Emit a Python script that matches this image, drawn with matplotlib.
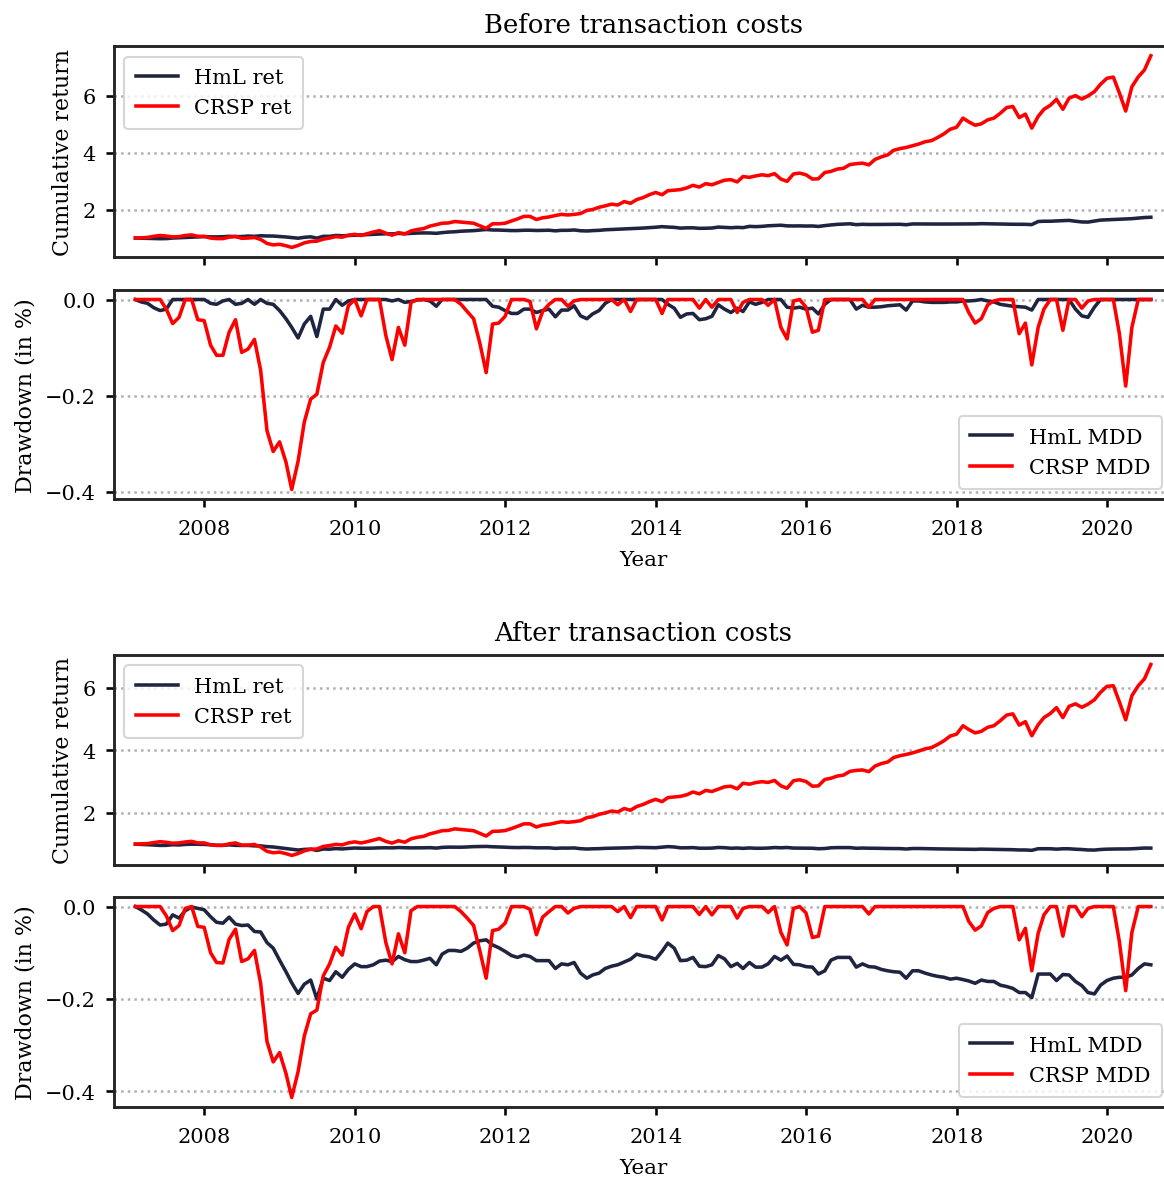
import matplotlib
matplotlib.use('Agg')
import matplotlib.pyplot as plt
import matplotlib.dates as mdates
from matplotlib.ticker import MultipleLocator
import pandas as pd

plt.rcParams['font.family'] = 'serif'
plt.rcParams['font.serif'] = ['DejaVu Serif']

# monthly dates, Jan 2007 .. Jul 2020 (month end)
dates = pd.period_range('2007-01', periods=163, freq='M').to_timestamp(how='end').normalize()

# ---------------- before transaction costs ----------------
hml_cum_before = [
    1.000, 0.995, 0.992, 0.983, 0.977, 0.980, 1.000, 1.010, 1.020, 1.030, 1.040, 1.050,
    1.042, 1.040, 1.047, 1.060, 1.050, 1.052, 1.070, 1.060, 1.080, 1.072, 1.070, 1.055,
    1.037, 1.018, 0.994, 1.025, 1.043, 0.997, 1.060, 1.060, 1.090, 1.080, 1.087, 1.100,
    1.110, 1.120, 1.130, 1.140, 1.150, 1.146, 1.160, 1.153, 1.165, 1.175, 1.180, 1.177,
    1.165, 1.190, 1.210, 1.220, 1.240, 1.250, 1.260, 1.280, 1.300, 1.282, 1.280, 1.270,
    1.262, 1.262, 1.274, 1.274, 1.265, 1.270, 1.274, 1.253, 1.271, 1.271, 1.283, 1.256,
    1.248, 1.261, 1.270, 1.290, 1.300, 1.310, 1.320, 1.330, 1.340, 1.350, 1.365, 1.380,
    1.400, 1.386, 1.375, 1.348, 1.358, 1.359, 1.341, 1.344, 1.351, 1.385, 1.372, 1.362,
    1.375, 1.365, 1.410, 1.400, 1.410, 1.430, 1.440, 1.450, 1.427, 1.424, 1.427, 1.421,
    1.424, 1.407, 1.436, 1.460, 1.480, 1.490, 1.500, 1.470, 1.482, 1.476, 1.476, 1.478,
    1.480, 1.482, 1.483, 1.467, 1.495, 1.495, 1.493, 1.491, 1.491, 1.491, 1.493, 1.493,
    1.496, 1.496, 1.497, 1.505, 1.500, 1.497, 1.490, 1.487, 1.484, 1.482, 1.481, 1.472,
    1.580, 1.590, 1.590, 1.600, 1.610, 1.620, 1.590, 1.565, 1.560, 1.594, 1.630, 1.640,
    1.650, 1.660, 1.670, 1.680, 1.700, 1.720, 1.730,
]
crsp_cum_before = [
    1.00, 1.01, 1.02, 1.06, 1.09, 1.07, 1.04, 1.05, 1.09, 1.11, 1.06, 1.06,
    1.00, 0.98, 0.98, 1.03, 1.06, 0.99, 1.00, 1.02, 0.95, 0.81, 0.76, 0.78,
    0.73, 0.67, 0.74, 0.83, 0.88, 0.89, 0.96, 1.00, 1.05, 1.03, 1.10, 1.13,
    1.09, 1.15, 1.21, 1.26, 1.17, 1.10, 1.19, 1.14, 1.25, 1.30, 1.33, 1.42,
    1.47, 1.52, 1.53, 1.58, 1.56, 1.54, 1.52, 1.43, 1.34, 1.50, 1.50, 1.52,
    1.60, 1.67, 1.76, 1.76, 1.65, 1.71, 1.74, 1.79, 1.83, 1.81, 1.83, 1.86,
    1.97, 2.00, 2.08, 2.13, 2.19, 2.16, 2.28, 2.22, 2.35, 2.42, 2.52, 2.60,
    2.52, 2.66, 2.68, 2.70, 2.76, 2.85, 2.79, 2.91, 2.87, 2.95, 3.03, 3.05,
    2.97, 3.16, 3.13, 3.18, 3.22, 3.19, 3.26, 3.07, 2.99, 3.25, 3.28, 3.22,
    3.07, 3.08, 3.30, 3.34, 3.42, 3.45, 3.58, 3.61, 3.63, 3.57, 3.76, 3.85,
    3.92, 4.08, 4.14, 4.18, 4.24, 4.30, 4.38, 4.42, 4.53, 4.66, 4.82, 4.89,
    5.21, 5.08, 4.96, 5.01, 5.15, 5.21, 5.38, 5.58, 5.62, 5.23, 5.35, 4.86,
    5.27, 5.52, 5.66, 5.87, 5.52, 5.91, 6.00, 5.88, 5.99, 6.14, 6.40, 6.61,
    6.65, 6.10, 5.46, 6.31, 6.66, 6.90, 7.40,
]
hml_dd_before = [
    0.000, -0.005, -0.008, -0.017, -0.023, -0.020, 0.000, 0.000, 0.000, 0.000, 0.000, 0.000,
    -0.008, -0.010, -0.003, 0.000, -0.010, -0.008, 0.000, -0.010, 0.000, -0.008, -0.010, -0.023,
    -0.040, -0.058, -0.080, -0.051, -0.035, -0.077, -0.020, -0.020, 0.000, -0.012, -0.003, 0.000,
    0.000, 0.000, 0.000, 0.000, 0.000, -0.003, 0.000, -0.006, -0.004, -0.001, 0.000, -0.003,
    -0.014, 0.000, 0.000, 0.000, 0.000, 0.000, 0.000, 0.000, 0.000, -0.014, -0.016, -0.023,
    -0.029, -0.029, -0.020, -0.020, -0.027, -0.023, -0.020, -0.036, -0.022, -0.022, -0.013, -0.034,
    -0.040, -0.030, -0.023, -0.008, 0.000, 0.000, 0.000, 0.000, 0.000, 0.000, 0.000, 0.000,
    0.000, -0.010, -0.018, -0.037, -0.030, -0.029, -0.042, -0.040, -0.035, -0.011, -0.020, -0.027,
    -0.018, -0.025, -0.005, -0.010, -0.006, 0.000, 0.000, 0.000, -0.016, -0.018, -0.016, -0.020,
    -0.018, -0.030, -0.010, 0.000, 0.000, 0.000, 0.000, -0.020, -0.012, -0.016, -0.016, -0.015,
    -0.013, -0.012, -0.011, -0.022, -0.003, -0.003, -0.005, -0.006, -0.006, -0.006, -0.005, -0.005,
    -0.003, -0.003, -0.002, 0.000, -0.003, -0.005, -0.010, -0.012, -0.014, -0.015, -0.016, -0.022,
    0.000, 0.000, 0.000, 0.000, 0.000, 0.000, -0.020, -0.034, -0.037, -0.016, 0.000, 0.000,
    0.000, 0.000, 0.000, 0.000, 0.000, 0.000, 0.000,
]
crsp_dd_before = [
    0.000, 0.000, 0.000, 0.000, 0.000, -0.020, -0.050, -0.037, 0.000, 0.000, -0.042, -0.044,
    -0.095, -0.116, -0.116, -0.068, -0.042, -0.110, -0.103, -0.083, -0.147, -0.273, -0.316, -0.296,
    -0.338, -0.395, -0.336, -0.255, -0.207, -0.197, -0.131, -0.099, -0.055, -0.070, -0.013, 0.000,
    -0.034, 0.000, 0.000, 0.000, -0.075, -0.125, -0.058, -0.095, -0.006, 0.000, 0.000, 0.000,
    0.000, 0.000, 0.000, 0.000, -0.010, -0.025, -0.040, -0.092, -0.152, -0.051, -0.049, -0.035,
    0.000, 0.000, 0.000, -0.004, -0.061, -0.025, -0.010, 0.000, 0.000, -0.014, -0.003, 0.000,
    0.000, 0.000, 0.000, 0.000, 0.000, -0.011, 0.000, -0.025, 0.000, 0.000, 0.000, 0.000,
    -0.029, 0.000, 0.000, 0.000, 0.000, 0.000, -0.018, 0.000, -0.016, 0.000, 0.000, 0.000,
    -0.027, -0.006, 0.000, 0.000, 0.000, -0.012, 0.000, -0.058, -0.082, -0.003, 0.000, -0.016,
    -0.068, -0.064, 0.000, 0.000, 0.000, 0.000, 0.000, 0.000, 0.000, -0.016, 0.000, 0.000,
    0.000, 0.000, 0.000, 0.000, 0.000, 0.000, 0.000, 0.000, 0.000, 0.000, 0.000, 0.000,
    0.000, -0.027, -0.049, -0.040, -0.011, -0.003, 0.000, 0.000, 0.000, -0.071, -0.049, -0.136,
    -0.058, -0.020, 0.000, 0.000, -0.064, 0.000, 0.000, -0.018, -0.003, 0.000, 0.000, 0.000,
    0.000, -0.070, -0.180, -0.058, 0.000, 0.000, 0.000,
]

# ---------------- after transaction costs ----------------
hml_cum_after = [
    1.000, 0.993, 0.984, 0.971, 0.960, 0.962, 0.982, 0.975, 0.991, 0.999, 0.996, 0.993,
    0.978, 0.966, 0.964, 0.977, 0.962, 0.959, 0.960, 0.946, 0.945, 0.922, 0.910, 0.884,
    0.859, 0.835, 0.812, 0.832, 0.841, 0.800, 0.845, 0.840, 0.859, 0.847, 0.864, 0.876,
    0.870, 0.870, 0.874, 0.882, 0.884, 0.881, 0.892, 0.885, 0.881, 0.881, 0.884, 0.888,
    0.874, 0.897, 0.905, 0.905, 0.903, 0.910, 0.921, 0.926, 0.928, 0.917, 0.911, 0.903,
    0.894, 0.890, 0.895, 0.892, 0.883, 0.883, 0.883, 0.866, 0.876, 0.874, 0.879, 0.856,
    0.845, 0.852, 0.856, 0.866, 0.871, 0.874, 0.880, 0.886, 0.897, 0.893, 0.891, 0.886,
    0.903, 0.921, 0.910, 0.883, 0.884, 0.890, 0.871, 0.870, 0.874, 0.894, 0.887, 0.870,
    0.877, 0.866, 0.879, 0.869, 0.869, 0.876, 0.892, 0.884, 0.893, 0.875, 0.874, 0.870,
    0.869, 0.854, 0.861, 0.884, 0.890, 0.890, 0.890, 0.869, 0.876, 0.870, 0.869, 0.864,
    0.861, 0.859, 0.858, 0.845, 0.861, 0.861, 0.856, 0.852, 0.849, 0.847, 0.843, 0.845,
    0.842, 0.839, 0.834, 0.841, 0.838, 0.838, 0.830, 0.827, 0.823, 0.814, 0.814, 0.803,
    0.854, 0.854, 0.854, 0.840, 0.853, 0.852, 0.838, 0.829, 0.814, 0.811, 0.830, 0.840,
    0.845, 0.847, 0.847, 0.852, 0.866, 0.876, 0.874,
]
crsp_cum_after = [
    1.00, 1.01, 1.02, 1.05, 1.08, 1.06, 1.03, 1.04, 1.07, 1.09, 1.04, 1.04,
    0.98, 0.96, 0.96, 1.01, 1.04, 0.97, 0.97, 0.99, 0.91, 0.77, 0.725, 0.745,
    0.697, 0.64, 0.70, 0.785, 0.837, 0.846, 0.927, 0.955, 0.994, 0.976, 1.04, 1.073,
    1.038, 1.078, 1.13, 1.18, 1.088, 1.034, 1.11, 1.062, 1.17, 1.22, 1.25, 1.33,
    1.38, 1.43, 1.44, 1.49, 1.47, 1.45, 1.43, 1.345, 1.26, 1.41, 1.415, 1.435,
    1.50, 1.57, 1.65, 1.65, 1.55, 1.61, 1.635, 1.68, 1.72, 1.70, 1.72, 1.75,
    1.85, 1.88, 1.955, 2.00, 2.06, 2.03, 2.14, 2.085, 2.205, 2.27, 2.36, 2.435,
    2.36, 2.49, 2.51, 2.53, 2.58, 2.67, 2.61, 2.72, 2.685, 2.76, 2.835, 2.855,
    2.77, 2.95, 2.92, 2.97, 3.00, 2.975, 3.04, 2.865, 2.79, 3.03, 3.06, 3.005,
    2.855, 2.865, 3.07, 3.11, 3.18, 3.21, 3.33, 3.36, 3.375, 3.32, 3.50, 3.58,
    3.63, 3.77, 3.83, 3.87, 3.92, 3.98, 4.05, 4.09, 4.19, 4.31, 4.46, 4.52,
    4.79, 4.67, 4.56, 4.61, 4.74, 4.79, 4.95, 5.13, 5.17, 4.81, 4.92, 4.47,
    4.82, 5.05, 5.18, 5.37, 5.05, 5.41, 5.49, 5.38, 5.48, 5.62, 5.86, 6.05,
    6.07, 5.56, 4.98, 5.75, 6.07, 6.29, 6.75,
]
hml_dd_after = [
    0.000, -0.007, -0.016, -0.029, -0.040, -0.038, -0.018, -0.025, -0.009, -0.001, -0.004, -0.007,
    -0.022, -0.034, -0.036, -0.023, -0.038, -0.041, -0.040, -0.054, -0.055, -0.078, -0.090, -0.116,
    -0.141, -0.165, -0.188, -0.168, -0.159, -0.200, -0.155, -0.160, -0.141, -0.153, -0.136, -0.124,
    -0.130, -0.130, -0.126, -0.118, -0.116, -0.119, -0.108, -0.115, -0.119, -0.119, -0.116, -0.112,
    -0.126, -0.103, -0.095, -0.095, -0.097, -0.090, -0.079, -0.074, -0.072, -0.083, -0.089, -0.097,
    -0.106, -0.110, -0.105, -0.108, -0.117, -0.117, -0.117, -0.134, -0.124, -0.126, -0.121, -0.144,
    -0.155, -0.148, -0.144, -0.134, -0.129, -0.126, -0.120, -0.114, -0.103, -0.107, -0.109, -0.114,
    -0.097, -0.079, -0.090, -0.117, -0.116, -0.110, -0.129, -0.130, -0.126, -0.106, -0.113, -0.130,
    -0.123, -0.134, -0.121, -0.131, -0.131, -0.124, -0.108, -0.116, -0.107, -0.125, -0.126, -0.130,
    -0.131, -0.146, -0.139, -0.116, -0.110, -0.110, -0.110, -0.131, -0.124, -0.130, -0.131, -0.136,
    -0.139, -0.141, -0.142, -0.155, -0.139, -0.139, -0.144, -0.148, -0.151, -0.153, -0.157, -0.155,
    -0.158, -0.161, -0.166, -0.159, -0.162, -0.162, -0.170, -0.173, -0.177, -0.186, -0.186, -0.197,
    -0.146, -0.146, -0.146, -0.160, -0.147, -0.148, -0.162, -0.171, -0.186, -0.189, -0.170, -0.160,
    -0.155, -0.153, -0.153, -0.148, -0.134, -0.124, -0.126,
]
crsp_dd_after = [
    0.000, 0.000, 0.000, 0.000, 0.000, -0.020, -0.052, -0.041, -0.004, 0.000, -0.043, -0.045,
    -0.100, -0.121, -0.122, -0.071, -0.049, -0.119, -0.113, -0.095, -0.166, -0.292, -0.336, -0.316,
    -0.361, -0.413, -0.357, -0.280, -0.232, -0.224, -0.150, -0.124, -0.088, -0.105, -0.045, -0.016,
    -0.048, -0.011, 0.000, 0.000, -0.078, -0.124, -0.059, -0.100, -0.009, 0.000, 0.000, 0.000,
    0.000, 0.000, 0.000, 0.000, -0.011, -0.025, -0.041, -0.097, -0.155, -0.052, -0.049, -0.036,
    0.000, 0.000, 0.000, -0.006, -0.061, -0.023, -0.011, 0.000, 0.000, -0.014, -0.004, 0.000,
    0.000, 0.000, 0.000, 0.000, 0.000, -0.011, 0.000, -0.024, 0.000, 0.000, 0.000, 0.000,
    -0.029, 0.000, 0.000, 0.000, 0.000, 0.000, -0.017, 0.000, -0.018, 0.000, 0.000, 0.000,
    -0.025, -0.004, 0.000, 0.000, 0.000, -0.013, 0.000, -0.056, -0.083, -0.004, 0.000, -0.014,
    -0.067, -0.064, 0.000, 0.000, 0.000, 0.000, 0.000, 0.000, 0.000, -0.016, 0.000, 0.000,
    0.000, 0.000, 0.000, 0.000, 0.000, 0.000, 0.000, 0.000, 0.000, 0.000, 0.000, 0.000,
    0.000, -0.032, -0.051, -0.042, -0.013, -0.004, 0.000, 0.000, 0.000, -0.072, -0.047, -0.139,
    -0.058, -0.018, 0.000, 0.000, -0.064, 0.000, 0.000, -0.022, -0.004, 0.000, 0.000, 0.000,
    0.000, -0.075, -0.182, -0.056, 0.000, 0.000, 0.000,
]

NAVY = '#1f2541'
RED = '#ff0000'


def style_ax(ax):
    for s in ax.spines.values():
        s.set_linewidth(1.4)
        s.set_color('#262626')
    ax.tick_params(direction='out', length=3.8, width=1.25, colors='black')
    ax.tick_params(axis='x', pad=6)
    ax.tick_params(axis='y', pad=5)
    ax.grid(axis='y', linestyle=':', color='#b0b0b0', linewidth=1.2)
    ax.grid(axis='x', visible=False)
    ax.margins(x=0.021)
    ax.xaxis.set_major_locator(mdates.YearLocator(2))
    ax.xaxis.set_major_formatter(mdates.DateFormatter('%Y'))


def draw_pair(ax_cum, ax_dd, title, hml_cum, crsp_cum, hml_dd, crsp_dd):
    leg_kw = dict(fontsize=10, borderpad=0.55, labelspacing=0.55)

    ax_cum.plot(dates, hml_cum, color=NAVY, lw=1.7, label='HmL ret')
    ax_cum.plot(dates, crsp_cum, color=RED, lw=1.7, label='CRSP ret')
    ax_cum.set_ylabel('Cumulative return', fontsize=10.6)
    ax_cum.set_title(title, fontsize=12.4, pad=7)
    ax_cum.legend(loc='upper left', **leg_kw)
    style_ax(ax_cum)
    ax_cum.yaxis.set_major_locator(MultipleLocator(2))
    ax_cum.tick_params(labelbottom=False)

    ax_dd.plot(dates, hml_dd, color=NAVY, lw=1.7, label='HmL MDD')
    ax_dd.plot(dates, crsp_dd, color=RED, lw=1.7, label='CRSP MDD')
    ax_dd.set_ylabel('Drawdown (in %)', fontsize=10.6)
    ax_dd.set_xlabel('Year', fontsize=10.3, labelpad=5.5)
    ax_dd.legend(loc='lower right', **leg_kw)
    style_ax(ax_dd)
    ax_dd.yaxis.set_major_locator(MultipleLocator(0.2))


fig = plt.figure(figsize=(7.76, 7.853), dpi=150)
left, width = 0.098, 0.909
ax1 = fig.add_axes([left, 0.781, width, 0.179])
ax2 = fig.add_axes([left, 0.5756, width, 0.1774], sharex=ax1)
ax3 = fig.add_axes([left, 0.2649, width, 0.1783], sharex=ax1)
ax4 = fig.add_axes([left, 0.0594, width, 0.1783], sharex=ax1)

draw_pair(ax1, ax2, 'Before transaction costs',
          hml_cum_before, crsp_cum_before, hml_dd_before, crsp_dd_before)
draw_pair(ax3, ax4, 'After transaction costs',
          hml_cum_after, crsp_cum_after, hml_dd_after, crsp_dd_after)

fig.savefig('out.png', dpi=150)
